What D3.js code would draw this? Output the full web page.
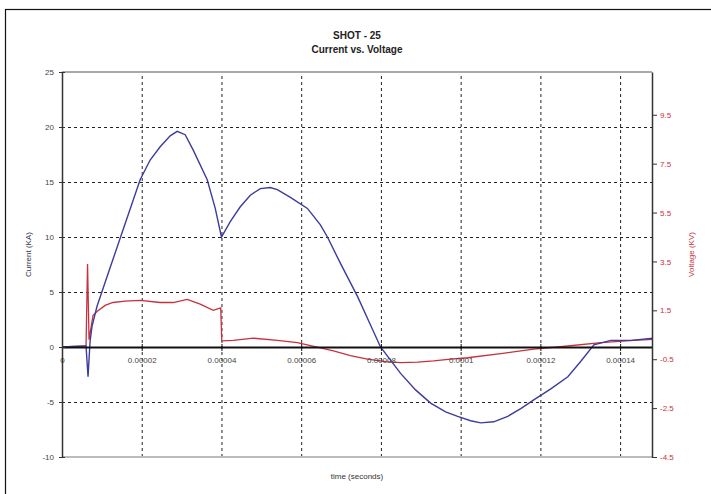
<!DOCTYPE html>
<html lang="en">
<head>
<meta charset="UTF-8">
<title>SHOT - 25 Current vs. Voltage</title>
<script src="https://d3js.org/d3.v7.min.js"></script>
<style>
  body { margin: 0; background: #fff; }
  svg { display: block; font-family: "Liberation Sans", Arial, sans-serif; }
</style>
</head>
<body>
<div id="chart"></div>
<script>
// time in microseconds (converted to seconds below), current in kA, voltage in kV
const currentTime = [0, 6.03, 6.53, 7.04, 7.54, 8.79, 12.06, 15.83, 19.60, 22.11, 24.62, 27.14, 28.89,
  30.90, 32.92, 36.43, 38.44, 40.0, 42.21, 44.72, 47.24, 49.75, 52.26, 54.02, 57.29, 61.56, 64.82,
  66.58, 69.85, 74.12, 77.39, 79.90, 82.41, 84.93, 88.69, 92.46, 96.23, 99.25, 102.51, 105.03,
  108.29, 111.81, 115.08, 118.34, 122.61, 126.89, 130.15, 133.42, 137.69, 142.72, 148.24];
const currentKA = [0, 0.1, -2.7, 0.5, 1.9, 3.7, 7.2, 11.2, 15.2, 17.0, 18.2, 19.2, 19.6,
  19.3, 17.9, 15.2, 12.6, 10.0, 11.4, 12.75, 13.8, 14.4, 14.5, 14.3, 13.6, 12.6, 11.1,
  10.0, 7.6, 4.6, 2.0, 0, -1.2, -2.4, -3.9, -5.1, -5.9, -6.3, -6.7, -6.9,
  -6.8, -6.3, -5.6, -4.8, -3.8, -2.7, -1.3, 0.2, 0.6, 0.6, 0.8];

const voltageTime = [0, 6.03, 6.41, 6.78, 7.79, 8.79, 10.80, 12.81, 15.83, 19.60, 24.62, 27.89,
  31.41, 34.67, 37.94, 39.82, 40.08, 42.96, 47.99, 54.02, 59.05, 64.82, 68.09, 72.36, 76.63,
  81.16, 84.93, 89.20, 93.22, 97.49, 101.76, 110.05, 118.34, 126.89, 135.18, 143.47, 148.24];
const voltageKV = [0, 0.05, 3.4, 0.3, 1.3, 1.45, 1.7, 1.82, 1.88, 1.91, 1.82, 1.82,
  1.95, 1.75, 1.5, 1.6, 0.25, 0.27, 0.36, 0.27, 0.18, -0.04, -0.16, -0.35, -0.5,
  -0.6, -0.64, -0.62, -0.57, -0.5, -0.44, -0.27, -0.09, 0.04, 0.18, 0.27, 0.31];

const timeTicks = [0, 0.00002, 0.00004, 0.00006, 0.00008, 0.0001, 0.00012, 0.00014];
const timeTickLabels = ["0", "0.00002", "0.00004", "0.00006", "0.00008", "0.0001", "0.00012", "0.00014"];
const currentTicks = [-10, -5, 0, 5, 10, 15, 20, 25];
const voltageTicks = [-4.5, -2.5, -0.5, 1.5, 3.5, 5.5, 7.5, 9.5];

const W = 711, H = 494;
const margin = { top: 72, right: 59, bottom: 37, left: 62 };
const width = W - margin.left - margin.right;
const height = H - margin.top - margin.bottom;

const blue = "#3c3c9c", red = "#c8303c";
const font = "Liberation Sans, Arial, sans-serif";

const svg = d3.select("#chart").append("svg")
  .attr("width", W).attr("height", H);

// outer frame
svg.append("rect")
  .attr("x", 5.5).attr("y", 9.5).attr("width", 710).attr("height", 490)
  .attr("fill", "#fff").attr("stroke", "#111").attr("stroke-width", 1.2);

// titles
svg.append("text").attr("x", margin.left + width / 2).attr("y", 39)
  .attr("text-anchor", "middle").attr("font-size", 10).attr("font-weight", "bold")
  .attr("fill", "#222").text("SHOT - 25");
svg.append("text").attr("x", margin.left + width / 2).attr("y", 53)
  .attr("text-anchor", "middle").attr("font-size", 10).attr("font-weight", "bold")
  .attr("fill", "#222").text("Current vs. Voltage");

const g = svg.append("g").attr("transform", `translate(${margin.left},${margin.top})`);

const x = d3.scaleLinear().domain([0, 0.000148]).range([0, width]);
const y = d3.scaleLinear().domain([-10, 25]).range([height, 0]);
const y2 = d3.scaleLinear().domain([-4.5, 11.25]).range([height, 0]);

// grid
g.append("g")
  .call(d3.axisLeft(y).tickValues(currentTicks.filter(d => d !== 0 && d !== 25 && d !== -10))
    .tickSize(-width).tickFormat(""))
  .call(a => a.select(".domain").remove())
  .selectAll("line").attr("stroke", "#222").attr("stroke-dasharray", "3,3");
g.append("g")
  .attr("transform", `translate(0,${height})`)
  .call(d3.axisBottom(x).tickValues(timeTicks.filter(d => d !== 0)).tickSize(-height).tickFormat(""))
  .call(a => a.select(".domain").remove())
  .selectAll("line").attr("stroke", "#222").attr("stroke-dasharray", "3,3");

// top / bottom plot borders
g.append("line").attr("x1", 0).attr("x2", width).attr("y1", 0).attr("y2", 0)
  .attr("stroke", "#aaa").attr("stroke-width", 2);
g.append("line").attr("x1", 0).attr("x2", width).attr("y1", height).attr("y2", height)
  .attr("stroke", "#bbb").attr("stroke-width", 2);

// data lines
const lineI = d3.line().x(d => x(d[0] * 1e-6)).y(d => y(d[1]));
const lineV = d3.line().x(d => x(d[0] * 1e-6)).y(d => y2(d[1]));

g.append("path").datum(voltageTime.map((t, i) => [t, voltageKV[i]]))
  .attr("fill", "none").attr("stroke", red).attr("stroke-width", 1.3).attr("d", lineV);
g.append("path").datum(currentTime.map((t, i) => [t, currentKA[i]]))
  .attr("fill", "none").attr("stroke", blue).attr("stroke-width", 1.4).attr("d", lineI);

// zero line / x axis
const xAxis = g.append("g")
  .attr("transform", `translate(0,${y(0)})`)
  .call(d3.axisBottom(x).tickValues(timeTicks).tickFormat((d, i) => timeTickLabels[i])
    .tickSizeInner(4).tickSizeOuter(0).tickPadding(6));
xAxis.select(".domain").attr("stroke", "#111").attr("stroke-width", 2);
xAxis.selectAll("line").attr("stroke", "#111").attr("y1", -3);
xAxis.selectAll("text").attr("font-size", 8).attr("fill", "#444").attr("font-family", font);

// left axis (plain hyphen for negatives, like the original)
const yAxis = g.append("g")
  .call(d3.axisLeft(y).tickValues(currentTicks).tickFormat(d => String(d))
    .tickSizeInner(4).tickSizeOuter(0).tickPadding(4));
yAxis.select(".domain").attr("stroke", "#333").attr("stroke-width", 1.5);
yAxis.selectAll("line").attr("stroke", "#333").attr("x2", 3).attr("x1", -3);
yAxis.selectAll("text").attr("font-size", 8).attr("fill", "#444").attr("font-family", font);

// right axis
const y2Axis = g.append("g")
  .attr("transform", `translate(${width},0)`)
  .call(d3.axisRight(y2).tickValues(voltageTicks).tickFormat(d => d.toFixed(1))
    .tickSizeInner(5).tickSizeOuter(0).tickPadding(3));
y2Axis.select(".domain").attr("stroke", "#333").attr("stroke-width", 1.5);
y2Axis.selectAll("line").attr("stroke", "#333");
y2Axis.selectAll("text").attr("font-size", 8).attr("fill", red).attr("font-family", font);

// axis titles
svg.append("text")
  .attr("transform", `translate(31,${margin.top + height / 2 - 10}) rotate(-90)`)
  .attr("text-anchor", "middle").attr("font-size", 8).attr("fill", "#33334a")
  .text("Current (KA)");
svg.append("text")
  .attr("transform", `translate(694,${margin.top + height / 2 - 10}) rotate(-90)`)
  .attr("text-anchor", "middle").attr("font-size", 8).attr("fill", red)
  .text("Voltage (KV)");
svg.append("text")
  .attr("x", margin.left + width / 2).attr("y", 479)
  .attr("text-anchor", "middle").attr("font-size", 8).attr("fill", "#333")
  .text("time (seconds)");
</script>
</body>
</html>
